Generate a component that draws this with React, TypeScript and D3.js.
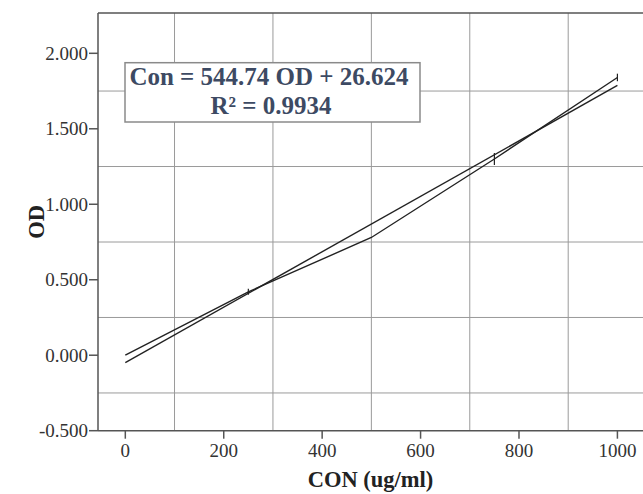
import * as d3 from 'd3';

// Standard curve: concentration vs optical density
const concentrations = [0, 250, 500, 750, 1000];
const odValues = [0.0, 0.42, 0.78, 1.3, 1.84];
const odErrors = [0, 0.02, 0, 0.04, 0.025];

// Linear trendline endpoints (Con = 544.74 OD + 26.624)
const trendCon = [0, 1000];
const trendOd = [-0.049, 1.787];

const xTicks = [0, 200, 400, 600, 800, 1000];
const xGrid = [100, 300, 500, 700, 900];
const yTicks = [-0.5, 0, 0.5, 1.0, 1.5, 2.0];
const yGrid = [-0.25, 0.25, 0.75, 1.25, 1.75];

const equationLines = ['Con = 544.74 OD + 26.624', 'R² = 0.9934'];

const width = 643;
const height = 494;
const margin = { top: 13, right: -2, bottom: 63.3, left: 98 };

export default function App() {
  const x = d3.scaleLinear()
    .domain([-55.5, 1052])
    .range([margin.left, width - margin.right - 2]);
  const y = d3.scaleLinear()
    .domain([-0.5, 2.267])
    .range([height - margin.bottom, margin.top]);

  const plotLeft = margin.left;
  const plotTop = margin.top;
  const plotBottom = height - margin.bottom;
  const plotRight = width + 4;

  const dataLine = d3.line<number>()
    .x((_, i) => x(concentrations[i]))
    .y(d => y(d));

  const trendLine = d3.line<number>()
    .x((_, i) => x(trendCon[i]))
    .y(d => y(d));

  // plain hyphen for negatives, like the original
  const fmtY = (v: number) => d3.format('.3f')(v).replace('\u2212', '-');

  const serif = '"Liberation Serif", "DejaVu Serif", serif';
  const textColor = '#333';

  return (
    <svg
      width={width}
      height={height}
      style={{ position: 'absolute', left: 0, top: 0, background: '#fff' }}
    >
      {/* grid */}
      <g stroke="#9a9a9a" strokeWidth={1}>
        {xGrid.map(v => (
          <line key={'gx' + v} x1={x(v)} x2={x(v)} y1={plotTop} y2={plotBottom} />
        ))}
        {yGrid.map(v => (
          <line key={'gy' + v} x1={plotLeft} x2={plotRight} y1={y(v)} y2={y(v)} />
        ))}
      </g>

      {/* frame */}
      <g stroke="#555" strokeWidth={1.5} fill="none">
        <line x1={plotLeft} x2={plotRight} y1={plotTop} y2={plotTop} />
        <line x1={plotLeft} x2={plotLeft} y1={plotTop} y2={plotBottom} />
        <line x1={plotLeft} x2={plotRight} y1={plotBottom} y2={plotBottom} />
      </g>

      {/* y axis ticks */}
      <g fontFamily={serif} fontSize={19} fill={textColor}>
        {yTicks.map(v => (
          <g key={'yt' + v}>
            <line x1={plotLeft - 9} x2={plotLeft} y1={y(v)} y2={y(v)} stroke="#555" strokeWidth={1.5} />
            <text x={plotLeft - 10} y={y(v)} dy="0.35em" textAnchor="end">
              {fmtY(v)}
            </text>
          </g>
        ))}
      </g>

      {/* x axis ticks */}
      <g fontFamily={serif} fontSize={19} fill={textColor}>
        {xTicks.map(v => (
          <g key={'xt' + v}>
            <line x1={x(v)} x2={x(v)} y1={plotBottom} y2={plotBottom + 8} stroke="#555" strokeWidth={1.5} />
            <text x={x(v)} y={plotBottom + 26} textAnchor="middle">
              {v}
            </text>
          </g>
        ))}
      </g>

      {/* axis titles */}
      <text
        x={(plotLeft + width) / 2}
        y={486.5}
        textAnchor="middle"
        fontFamily={serif}
        fontSize={22.5}
        fontWeight="bold"
        fill="#222"
      >
        CON (ug/ml)
      </text>
      <text
        transform={`translate(44,${(plotTop + plotBottom) / 2}) rotate(-90)`}
        textAnchor="middle"
        fontFamily={serif}
        fontSize={22.5}
        fontWeight="bold"
        fill="#222"
      >
        OD
      </text>

      {/* trendline */}
      <path d={trendLine(trendOd) ?? ''} fill="none" stroke="#222" strokeWidth={1.4} />

      {/* data line with error bars */}
      <path d={dataLine(odValues) ?? ''} fill="none" stroke="#222" strokeWidth={1.4} />
      <g stroke="#222" strokeWidth={1.2}>
        {concentrations.map((c, i) =>
          odErrors[i] > 0 ? (
            <line
              key={'e' + c}
              x1={x(c)}
              x2={x(c)}
              y1={y(odValues[i] - odErrors[i])}
              y2={y(odValues[i] + odErrors[i])}
            />
          ) : null
        )}
      </g>

      {/* equation label */}
      <rect x={125} y={62.7} width={295} height={59.3} fill="#fff" stroke="#8a8a8a" strokeWidth={1.5} />
      <g fontFamily={serif} fontSize={25} fontWeight="bold" fill="#3d4a63" textAnchor="middle">
        <text x={269} y={84.5}>{equationLines[0]}</text>
        <text x={271} y={114}>{equationLines[1]}</text>
      </g>
    </svg>
  );
}
